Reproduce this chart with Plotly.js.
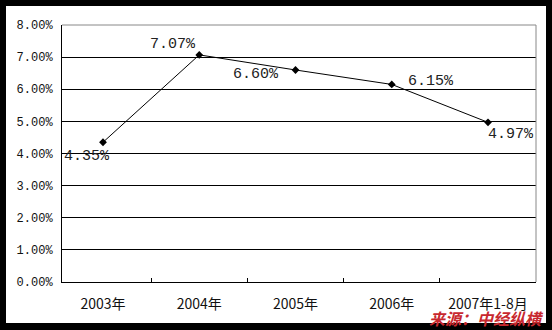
<!DOCTYPE html>
<html>
<head>
<meta charset="utf-8">
<script src="https://cdn.plot.ly/plotly-3.0.1.min.js"></script>
<style>
html,body{margin:0;padding:0;background:#000;width:552px;height:330px;overflow:hidden;}
#chart{position:absolute;left:0;top:0;width:552px;height:330px;}
</style>
</head>
<body>
<div id="chart"></div>
<script>
const categories = ["2003年", "2004年", "2005年", "2006年", "2007年1-8月"];
const values = [4.35, 7.07, 6.60, 6.15, 4.97];
const valueLabels = ["4.35%", "7.07%", "6.60%", "6.15%", "4.97%"];
const yTickVals = [0, 1, 2, 3, 4, 5, 6, 7, 8];
const yTickText = ["0.00%", "1.00%", "2.00%", "3.00%", "4.00%", "5.00%", "6.00%", "7.00%", "8.00%"];
const labelOffsets = [[-16, -14], [-26, 10], [-40, -5], [39, 3], [23, -12]];
const sourceText = "来源：中经纵横";

const trace = {
  x: categories,
  y: values,
  type: "scatter",
  mode: "lines+markers",
  line: {color: "#000", width: 1},
  marker: {symbol: "diamond", size: 6, color: "#000"},
  hoverinfo: "skip"
};

const annotations = categories.map((c, i) => ({
  x: c, y: values[i], xref: "x", yref: "y",
  text: valueLabels[i], showarrow: false,
  xshift: labelOffsets[i][0], yshift: labelOffsets[i][1],
  font: {family: "Liberation Mono, monospace", size: 15, color: "#222"}
}));
annotations.push({
  xref: "paper", yref: "paper", x: 0.8966, y: -0.1420,
  xanchor: "center", yanchor: "middle", showarrow: false,
  text: "<b><i>" + sourceText + "</i></b>",
  font: {family: "Noto Sans CJK SC", size: 16, color: "#c8282e"}
});

const layout = {
  width: 552, height: 330,
  margin: {l: 62, r: 16, t: 25, b: 48},
  paper_bgcolor: "#000", plot_bgcolor: "#fff",
  showlegend: false,
  xaxis: {
    type: "category",
    showline: true, linecolor: "#000", linewidth: 1,
    ticks: "inside", tickson: "boundaries", ticklen: 4, tickcolor: "#000",
    showgrid: false, zeroline: false,
    ticklabelstandoff: 9,
    tickfont: {family: "Noto Sans CJK SC", size: 14, color: "#111"},
    fixedrange: true
  },
  yaxis: {
    range: [0, 8],
    tickvals: yTickVals, ticktext: yTickText,
    showline: true, linecolor: "#000", linewidth: 1,
    showgrid: true, gridcolor: "#000", gridwidth: 1,
    zeroline: false, ticks: "",
    ticklabelstandoff: 6,
    tickfont: {family: "Liberation Mono, monospace", size: 12, color: "#111"},
    fixedrange: true
  },
  shapes: [
    {type: "rect", xref: "paper", yref: "paper", x0: -0.11814, x1: 1.02110, y0: -0.15953, y1: 1.07393,
     fillcolor: "#fff", line: {width: 0}, layer: "below"},
    {type: "line", xref: "paper", yref: "paper", x0: 0, x1: 1, y0: 1, y1: 1, line: {color: "#888", width: 1}, layer: "above"},
    {type: "line", xref: "paper", yref: "paper", x0: 1, x1: 1, y0: 0, y1: 1, line: {color: "#888", width: 1}, layer: "above"}
  ],
  annotations: annotations
};

Plotly.newPlot("chart", [trace], layout, {staticPlot: true, displayModeBar: false});
</script>
</body>
</html>
